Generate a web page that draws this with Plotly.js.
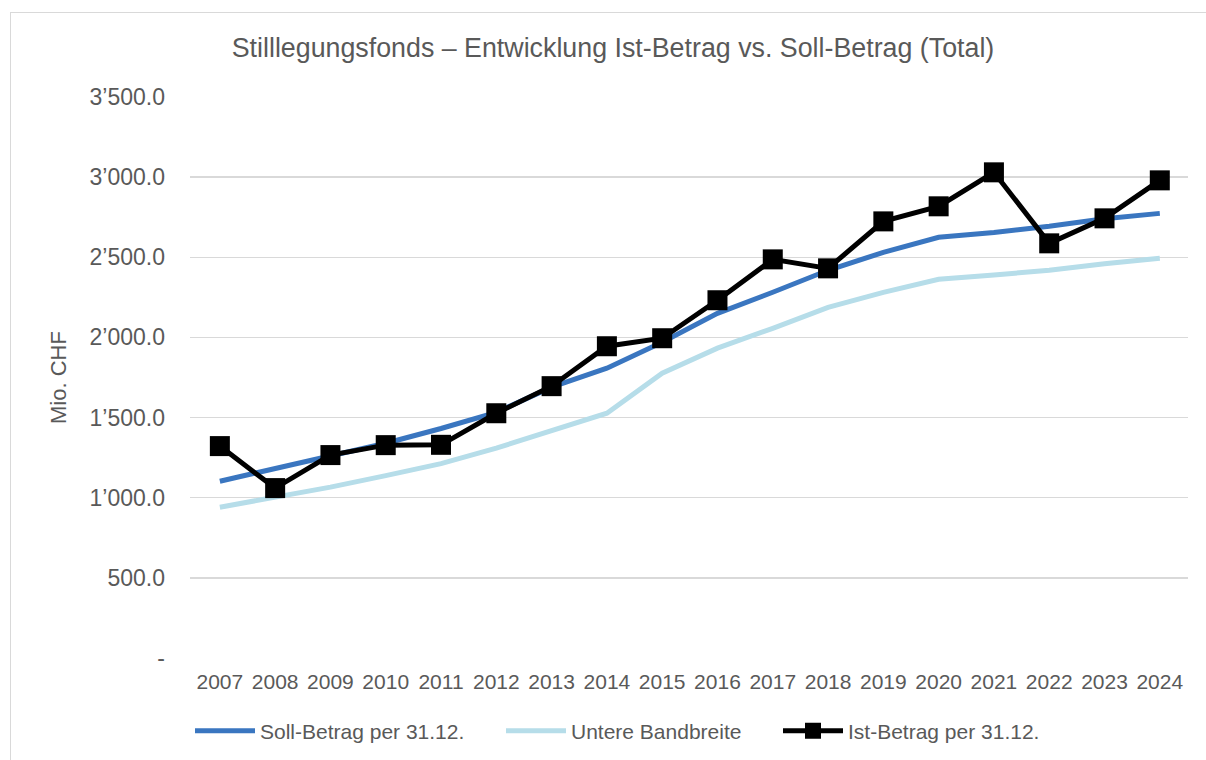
<!DOCTYPE html>
<html>
<head>
<meta charset="utf-8">
<script src="https://cdn.plot.ly/plotly-3.0.1.min.js"></script>
<style>
html,body{margin:0;padding:0;background:#fff;overflow:hidden;}
#chart{position:absolute;left:0;top:0;width:1206px;height:760px;}
#frame{position:absolute;left:10px;top:12px;width:1220px;height:780px;border:1.5px solid #d9d9d9;pointer-events:none;}
</style>
</head>
<body>
<div id="chart"></div>
<div id="frame"></div>
<script>
const years = ['2007','2008','2009','2010','2011','2012','2013','2014','2015','2016','2017','2018','2019','2020','2021','2022','2023','2024'];
const sollBetrag = [1103,1180,1255,1340,1432,1533,1690,1808,1970,2150,2282,2419,2531,2625,2655,2693,2740,2774];
const untereBandbreite = [941,1004,1066,1138,1213,1309,1420,1527,1777,1933,2057,2188,2281,2363,2390,2419,2460,2494];
const istBetrag = [1322,1060,1266,1328,1330,1527,1696,1945,1995,2232,2487,2431,2724,2818,3030,2587,2743,2980];
const yTickVals = [0,500,1000,1500,2000,2500,3000,3500];
const yTickText = ['-','500.0','1\u2019000.0','1\u2019500.0','2\u2019000.0','2\u2019500.0','3\u2019000.0','3\u2019500.0'];

const font = 'Liberation Sans, Arial, sans-serif';
const grey = '#595959';

const traces = [
  {x: years, y: sollBetrag, name: 'Soll-Betrag per 31.12.', type: 'scatter', mode: 'lines',
   line: {color: '#3a76c0', width: 5}, legend: 'legend'},
  {x: years, y: untereBandbreite, name: 'Untere Bandbreite', type: 'scatter', mode: 'lines',
   line: {color: '#b6dde9', width: 5}, legend: 'legend2'},
  {x: years, y: istBetrag, name: 'Ist-Betrag per 31.12.', type: 'scatter', mode: 'lines+markers',
   line: {color: '#000000', width: 5},
   marker: {symbol: 'square', size: 20, color: '#000000'}, legend: 'legend3'}
];

function legendAt(px) {
  return {orientation: 'h', xref: 'container', yref: 'container',
          x: px/1206, y: 1 - 731/760, xanchor: 'left', yanchor: 'middle',
          font: {family: font, size: 21, color: grey}, itemwidth: 60,
          bgcolor: 'rgba(0,0,0,0)'};
}

const layout = {
  width: 1206, height: 760,
  margin: {l: 190, r: 18, t: 97, b: 102},
  paper_bgcolor: '#ffffff', plot_bgcolor: '#ffffff',
  font: {family: font, color: grey, size: 21},
  title: {text: 'Stilllegungsfonds \u2013 Entwicklung Ist-Betrag vs. Soll-Betrag (Total)',
          font: {family: font, size: 26.8, color: grey},
          x: 613/1206, xref: 'container', xanchor: 'center',
          y: 1 - 48/760, yref: 'container', yanchor: 'middle'},
  xaxis: {type: 'category', range: [-0.54, 17.51], tickfont: {size: 21, color: grey}, showgrid: false,
          showline: false, ticks: '', ticklabelstandoff: 9, fixedrange: true},
  yaxis: {range: [0, 3500], tickvals: yTickVals, ticktext: yTickText,
          tickfont: {size: 23, color: grey}, showgrid: true, gridcolor: '#d9d9d9', gridwidth: 1.5,
          zeroline: false, showline: false, ticks: '', ticklabelstandoff: 24,
          title: {text: 'Mio. CHF', font: {size: 22, color: grey}, standoff: 16}},
  showlegend: true,
  legend: legendAt(190),
  legend2: legendAt(501),
  legend3: legendAt(778)
};

Plotly.newPlot('chart', traces, layout, {displayModeBar: false, staticPlot: true});
</script>
</body>
</html>
